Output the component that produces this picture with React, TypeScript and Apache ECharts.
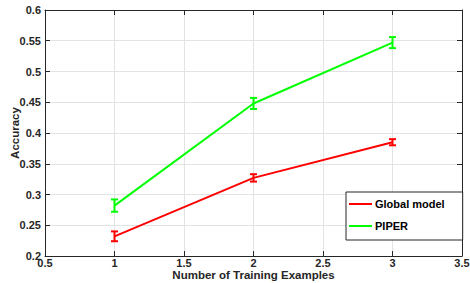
import React, { useEffect, useRef } from "react";
import * as echarts from "echarts";

const xValues = [1, 2, 3];
const globalMean = [0.232, 0.327, 0.385];
const globalErr = [0.008, 0.006, 0.005];
const piperMean = [0.282, 0.448, 0.547];
const piperErr = [0.01, 0.009, 0.009];
const seriesNames = ["Global model", "PIPER"];
const colors = ["#ff0000", "#00ff00"];

const font = "Liberation Sans, Arial, Helvetica, sans-serif";

function errData(mean: number[], err: number[]) {
  return xValues.map((x, i) => [x, mean[i] - err[i], mean[i] + err[i]]);
}

function errSeries(mean: number[], err: number[], color: string) {
  return {
    type: "custom",
    data: errData(mean, err),
    encode: { x: 0, y: [1, 2] },
    z: 3,
    silent: true,
    renderItem: (params: any, api: any) => {
      const x = api.value(0);
      const lo = api.coord([x, api.value(1)]);
      const hi = api.coord([x, api.value(2)]);
      const w = 3.5;
      const style = { stroke: color, lineWidth: 2 };
      return {
        type: "group",
        children: [
          { type: "line", shape: { x1: lo[0], y1: lo[1], x2: hi[0], y2: hi[1] }, style },
          { type: "line", shape: { x1: lo[0] - w, y1: lo[1], x2: lo[0] + w, y2: lo[1] }, style },
          { type: "line", shape: { x1: hi[0] - w, y1: hi[1], x2: hi[0] + w, y2: hi[1] }, style },
        ],
      };
    },
  };
}

export default function App() {
  const ref = useRef<HTMLDivElement>(null);
  useEffect(() => {
    if (!ref.current) return;
    const chart = echarts.init(ref.current, null, { renderer: "svg" });
    const frame = "#262626";
    const axisCommon = {
      axisLine: { show: true, onZero: false, lineStyle: { color: frame, width: 1 } },
      axisTick: { show: true, inside: true, length: 5, lineStyle: { color: frame } },
    };
    chart.setOption({
      animation: false,
      backgroundColor: "#ffffff",
      grid: { left: 45, right: 8, top: 10, bottom: 27, containLabel: false, outerBoundsMode: "none" },
      legend: {
        data: seriesNames,
        orient: "vertical",
        left: 346,
        top: 192,
        padding: [5, 18, 7, 3],
        itemWidth: 23,
        itemHeight: 2,
        itemGap: 8,
        icon: "rect",
        borderColor: frame,
        borderWidth: 1,
        backgroundColor: "#ffffff",
        textStyle: { fontFamily: font, fontWeight: "bold", fontSize: 11, color: "#000", lineHeight: 14, padding: [0, 0, 0, -2] },
      },
      xAxis: [
        {
          type: "value",
          min: 0.5,
          max: 3.5,
          interval: 0.5,
          position: "bottom",
          ...axisCommon,
          splitLine: { show: true, lineStyle: { color: "#e3e3e3", width: 1 } },
          axisLabel: { fontFamily: font, fontWeight: "bold", fontSize: 11, color: "#262626", margin: 1, formatter: (v: number) => String(v) },
          name: "Number of Training Examples",
          nameLocation: "middle",
          nameGap: 13,
          nameMoveOverlap: false,
          nameTextStyle: { fontFamily: font, fontWeight: "bold", fontSize: 11.5, color: "#262626", verticalAlign: "top" },
        },
        {
          type: "value",
          min: 0.5,
          max: 3.5,
          interval: 0.5,
          position: "top",
          ...axisCommon,
          splitLine: { show: false },
          axisLabel: { show: false },
        },
      ],
      yAxis: [
        {
          type: "value",
          min: 0.2,
          max: 0.6,
          interval: 0.05,
          position: "left",
          ...axisCommon,
          splitLine: { show: true, lineStyle: { color: "#e3e3e3", width: 1 } },
          axisLabel: { fontFamily: font, fontWeight: "bold", fontSize: 11, color: "#262626", margin: 4, formatter: (v: number) => String(Math.round(v * 100) / 100) },
          name: "Accuracy",
          nameLocation: "middle",
          nameGap: 24,
          nameMoveOverlap: false,
          nameTextStyle: { fontFamily: font, fontWeight: "bold", fontSize: 11.5, color: "#262626" },
        },
        {
          type: "value",
          min: 0.2,
          max: 0.6,
          interval: 0.05,
          position: "right",
          ...axisCommon,
          splitLine: { show: false },
          axisLabel: { show: false },
        },
      ],
      series: [
        {
          name: seriesNames[0],
          type: "line",
          data: xValues.map((x, i) => [x, globalMean[i]]),
          showSymbol: false,
          symbol: "none",
          lineStyle: { color: colors[0], width: 2 },
          itemStyle: { color: colors[0] },
          z: 2,
        },
        {
          name: seriesNames[1],
          type: "line",
          data: xValues.map((x, i) => [x, piperMean[i]]),
          showSymbol: false,
          symbol: "none",
          lineStyle: { color: colors[1], width: 2 },
          itemStyle: { color: colors[1] },
          z: 2,
        },
        errSeries(globalMean, globalErr, colors[0]),
        errSeries(piperMean, piperErr, colors[1]),
      ],
    });
    return () => chart.dispose();
  }, []);
  return <div ref={ref} style={{ position: "fixed", left: 0, top: 0, width: 470, height: 283 }} />;
}
